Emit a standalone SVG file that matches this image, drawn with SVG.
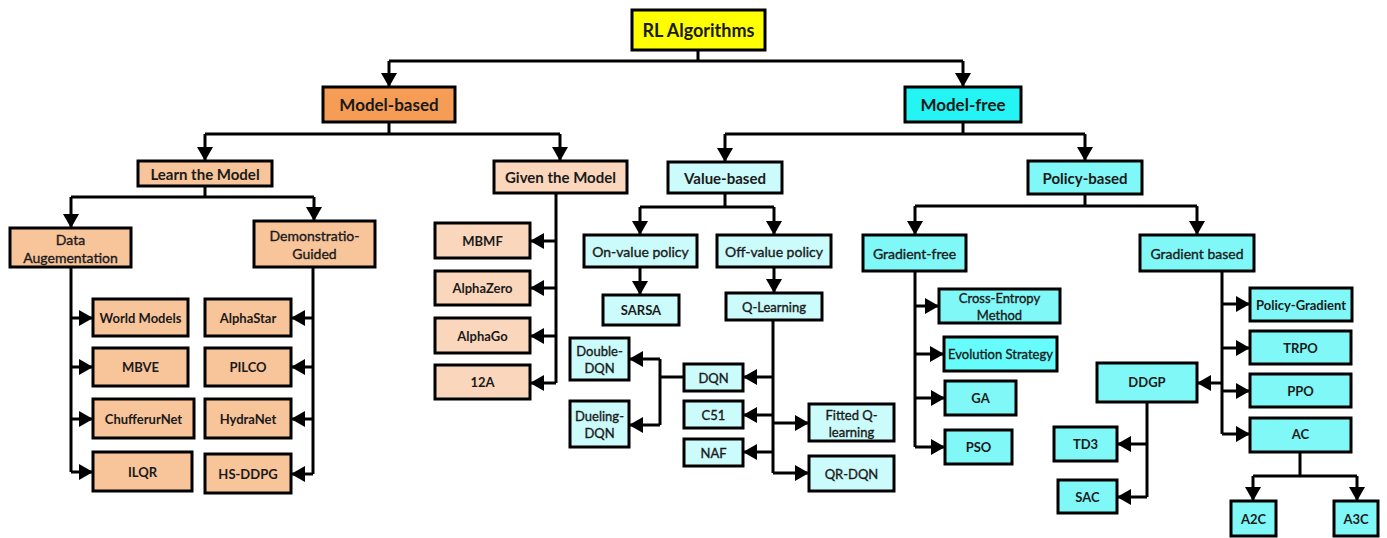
<svg xmlns="http://www.w3.org/2000/svg" width="1387" height="538" viewBox="0 0 1387 538">
  <style>
    rect { stroke: #000; stroke-width: 3; }
    text { font-family: Lato, "Liberation Sans", sans-serif; fill: #1a1a1a; text-anchor: middle; dominant-baseline: central; }
    .b { font-weight: 700; }
    .r { font-weight: 400; stroke: #1a1a1a; stroke-width: 0.35; }
    .root { fill: #FFFF00; }
    .mb { fill: #F59D56; }
    .mf { fill: #25F4F4; }
    .lo { fill: #F8C49A; }
    .go { fill: #FAD6BC; }
    .vb { fill: #CCFBFB; }
    .pb { fill: #80F8F8; }
    .es { fill: #66FCFC; }
    .links path { fill: none; stroke: #000; stroke-width: 3; }
    .links path.a { marker-end: url(#arrow); }
  </style>
  <defs>
    <marker id="arrow" viewBox="0 0 14 16" refX="13" refY="8" markerWidth="14" markerHeight="16" markerUnits="userSpaceOnUse" orient="auto">
      <path d="M0,0 L14,8 L0,16 z" fill="#000"/>
    </marker>
  </defs>

  <rect width="1387" height="538" fill="#fff" style="stroke:none"/>

  <!-- connectors -->
  <g class="links">
    <!-- root -->
    <path d="M698,50 V61 M389,61 H963"/>
    <path class="a" d="M389,61 V86"/>
    <path class="a" d="M963,61 V86"/>
    <!-- model-based -->
    <path d="M389,122 V134 M205,134 H560"/>
    <path class="a" d="M205,134 V160"/>
    <path class="a" d="M560,134 V160"/>
    <!-- model-free -->
    <path d="M963,123 V134 M725,134 H1085"/>
    <path class="a" d="M725,134 V161"/>
    <path class="a" d="M1085,134 V160"/>
    <!-- learn the model -->
    <path d="M205,186 V197 M71,197 H314"/>
    <path class="a" d="M71,197 V227"/>
    <path class="a" d="M314,197 V220"/>
    <!-- data augmentation -->
    <path d="M71,268 V472"/>
    <path class="a" d="M71,318 H92"/>
    <path class="a" d="M71,367 H92"/>
    <path class="a" d="M71,419 H92"/>
    <path class="a" d="M71,472 H92"/>
    <!-- demonstration guided -->
    <path d="M313,268 V474"/>
    <path class="a" d="M313,318 H292"/>
    <path class="a" d="M313,367 H292"/>
    <path class="a" d="M313,419 H292"/>
    <path class="a" d="M313,474 H292"/>
    <!-- given the model -->
    <path d="M556,194 V383"/>
    <path class="a" d="M556,241 H531"/>
    <path class="a" d="M556,288 H531"/>
    <path class="a" d="M556,336 H531"/>
    <path class="a" d="M556,383 H531"/>
    <!-- value-based -->
    <path d="M725,194 V207 M640,207 H774"/>
    <path class="a" d="M640,207 V234"/>
    <path class="a" d="M774,207 V234"/>
    <path class="a" d="M640,268 V294"/>
    <path class="a" d="M774,268 V292"/>
    <!-- q-learning -->
    <path d="M773,321 V473"/>
    <path class="a" d="M773,377 H744"/>
    <path class="a" d="M773,415 H744"/>
    <path class="a" d="M773,452 H744"/>
    <path class="a" d="M773,423 H808"/>
    <path class="a" d="M773,473 H808"/>
    <!-- dqn -->
    <path d="M683,377 H660 M660,359 V425"/>
    <path class="a" d="M660,359 H630"/>
    <path class="a" d="M660,425 H630"/>
    <!-- policy-based -->
    <path d="M1085,194 V206 M915,206 H1197"/>
    <path class="a" d="M915,206 V234"/>
    <path class="a" d="M1197,206 V234"/>
    <!-- gradient-free -->
    <path d="M915,272 V447"/>
    <path class="a" d="M915,306 H938"/>
    <path class="a" d="M915,354 H943"/>
    <path class="a" d="M915,398 H944"/>
    <path class="a" d="M915,447 H944"/>
    <!-- gradient based -->
    <path d="M1222,272 V434"/>
    <path class="a" d="M1222,304 H1249"/>
    <path class="a" d="M1222,348 H1249"/>
    <path class="a" d="M1222,391 H1249"/>
    <path class="a" d="M1222,434 H1249"/>
    <path class="a" d="M1222,383 H1198"/>
    <!-- ddgp -->
    <path d="M1147,403 V497"/>
    <path class="a" d="M1147,444 H1118"/>
    <path class="a" d="M1147,497 H1118"/>
    <!-- ac -->
    <path d="M1300,453 V476 M1253,476 H1357"/>
    <path class="a" d="M1253,476 V500"/>
    <path class="a" d="M1357,476 V500"/>
  </g>

  <!-- nodes -->
  <g id="rl-algorithms"><rect class="root" x="632" y="10" width="133" height="40"/><text class="b" x="698.5" y="30" font-size="18">RL Algorithms</text></g>

  <g id="model-based"><rect class="mb" x="323" y="87" width="132" height="35"/><text class="b" x="389" y="104.5" font-size="17">Model-based</text></g>
  <g id="model-free"><rect class="mf" x="905" y="87" width="116" height="35"/><text class="b" x="963" y="104.5" font-size="17">Model-free</text></g>

  <g id="learn-the-model"><rect class="lo" x="138" y="161" width="134" height="25"/><text class="b" x="205" y="173.5" font-size="15">Learn the Model</text></g>
  <g id="given-the-model"><rect class="go" x="494" y="161" width="133" height="32"/><text class="b" x="560.5" y="177" font-size="15">Given the Model</text></g>
  <g id="value-based"><rect class="vb" x="668" y="162" width="114" height="31"/><text class="b" x="725" y="177.5" font-size="15">Value-based</text></g>
  <g id="policy-based"><rect class="pb" x="1028" y="161" width="114" height="33"/><text class="b" x="1085" y="177.5" font-size="15">Policy-based</text></g>

  <g id="data-augmentation"><rect class="lo" x="10" y="228" width="121" height="39"/><text class="r" x="70.5" y="247.5" font-size="14"><tspan x="70.5" dy="-9">Data</tspan><tspan x="70.5" dy="18">Augementation</tspan></text></g>
  <g id="demonstratio-guided"><rect class="lo" x="254" y="221" width="121" height="46"/><text class="r" x="314.5" y="244" font-size="14"><tspan x="314.5" dy="-9">Demonstratio-</tspan><tspan x="314.5" dy="18">Guided</tspan></text></g>

  <g id="world-models"><rect class="lo" x="93" y="299" width="95" height="37"/><text class="b" x="140.5" y="317.5" font-size="13">World Models</text></g>
  <g id="mbve"><rect class="lo" x="93" y="348" width="95" height="38"/><text class="b" x="140.5" y="367" font-size="13">MBVE</text></g>
  <g id="chufferurnet"><rect class="lo" x="93" y="399" width="101" height="39"/><text class="b" x="143.5" y="418.5" font-size="13">ChufferurNet</text></g>
  <g id="ilqr"><rect class="lo" x="93" y="452" width="99" height="39"/><text class="b" x="142.5" y="471.5" font-size="13">ILQR</text></g>

  <g id="alphastar"><rect class="lo" x="205" y="299" width="86" height="37"/><text class="b" x="248" y="317.5" font-size="13">AlphaStar</text></g>
  <g id="pilco"><rect class="lo" x="205" y="348" width="86" height="38"/><text class="b" x="248" y="367" font-size="13">PILCO</text></g>
  <g id="hydranet"><rect class="lo" x="205" y="399" width="86" height="39"/><text class="b" x="248" y="418.5" font-size="13">HydraNet</text></g>
  <g id="hs-ddpg"><rect class="lo" x="205" y="454" width="86" height="39"/><text class="b" x="248" y="473.5" font-size="13">HS-DDPG</text></g>

  <g id="mbmf"><rect class="go" x="435" y="223" width="95" height="35"/><text class="b" x="482.5" y="240.5" font-size="13">MBMF</text></g>
  <g id="alphazero"><rect class="go" x="435" y="271" width="95" height="34"/><text class="b" x="482.5" y="288" font-size="13">AlphaZero</text></g>
  <g id="alphago"><rect class="go" x="435" y="318" width="95" height="35"/><text class="b" x="482.5" y="335.5" font-size="13">AlphaGo</text></g>
  <g id="i2a"><rect class="go" x="435" y="365" width="95" height="34"/><text class="b" x="482.5" y="382" font-size="13">12A</text></g>

  <g id="on-value-policy"><rect class="vb" x="584" y="235" width="113" height="32"/><text class="r" x="640.5" y="251" font-size="14">On-value policy</text></g>
  <g id="off-value-policy"><rect class="vb" x="717" y="235" width="114" height="32"/><text class="r" x="774" y="251" font-size="14">Off-value policy</text></g>
  <g id="sarsa"><rect class="vb" x="603" y="295" width="76" height="30"/><text class="b" x="641" y="310" font-size="13">SARSA</text></g>
  <g id="q-learning"><rect class="vb" x="726" y="293" width="96" height="27"/><text class="r" x="774" y="306.5" font-size="13">Q-Learning</text></g>

  <g id="double-dqn"><rect class="vb" x="570" y="338" width="59" height="42"/><text class="r" x="599.5" y="359" font-size="13"><tspan x="599.5" dy="-8">Double-</tspan><tspan x="599.5" dy="17">DQN</tspan></text></g>
  <g id="dueling-dqn"><rect class="vb" x="570" y="401" width="59" height="46"/><text class="r" x="599.5" y="424" font-size="13"><tspan x="599.5" dy="-8">Dueling-</tspan><tspan x="599.5" dy="17">DQN</tspan></text></g>
  <g id="dqn"><rect class="vb" x="684" y="364" width="59" height="27"/><text class="r" x="713.5" y="377.5" font-size="13">DQN</text></g>
  <g id="c51"><rect class="vb" x="684" y="401" width="59" height="27"/><text class="r" x="713.5" y="414.5" font-size="13">C51</text></g>
  <g id="naf"><rect class="vb" x="684" y="439" width="59" height="27"/><text class="r" x="713.5" y="452.5" font-size="13">NAF</text></g>
  <g id="fitted-q-learning"><rect class="vb" x="809" y="404" width="85" height="37"/><text class="r" x="851.5" y="422.5" font-size="13"><tspan x="851.5" dy="-8">Fitted Q-</tspan><tspan x="851.5" dy="17">learning</tspan></text></g>
  <g id="qr-dqn"><rect class="vb" x="809" y="456" width="85" height="35"/><text class="r" x="851.5" y="473.5" font-size="13">QR-DQN</text></g>

  <g id="gradient-free"><rect class="pb" x="863" y="235" width="103" height="36"/><text class="r" x="914.5" y="253" font-size="14">Gradient-free</text></g>
  <g id="gradient-based"><rect class="pb" x="1140" y="235" width="114" height="36"/><text class="r" x="1197" y="253" font-size="14">Gradient based</text></g>

  <g id="cross-entropy-method"><rect class="pb" x="939" y="289" width="121" height="34"/><text class="r" x="999.5" y="306" font-size="13"><tspan x="999.5" dy="-8">Cross-Entropy</tspan><tspan x="999.5" dy="17">Method</tspan></text></g>
  <g id="evolution-strategy"><rect class="es" x="944" y="337" width="113" height="34"/><text class="r" x="1000.5" y="354" font-size="13">Evolution Strategy</text></g>
  <g id="ga"><rect class="pb" x="945" y="381" width="71" height="34"/><text class="b" x="980.5" y="398" font-size="13">GA</text></g>
  <g id="pso"><rect class="pb" x="945" y="430" width="67" height="34"/><text class="b" x="978.5" y="447" font-size="13">PSO</text></g>

  <g id="policy-gradient"><rect class="pb" x="1250" y="288" width="102" height="33"/><text class="b" x="1301" y="304.5" font-size="13">Policy-Gradient</text></g>
  <g id="trpo"><rect class="pb" x="1250" y="331" width="101" height="33"/><text class="b" x="1300.5" y="347.5" font-size="13">TRPO</text></g>
  <g id="ppo"><rect class="pb" x="1250" y="374" width="101" height="33"/><text class="b" x="1300.5" y="390.5" font-size="13">PPO</text></g>
  <g id="ac"><rect class="pb" x="1250" y="418" width="101" height="34"/><text class="b" x="1300.5" y="434" font-size="13">AC</text></g>

  <g id="ddgp"><rect class="pb" x="1097" y="363" width="100" height="39"/><text class="b" x="1147" y="382" font-size="13">DDGP</text></g>
  <g id="td3"><rect class="pb" x="1054" y="427" width="63" height="34"/><text class="b" x="1085.5" y="444" font-size="13">TD3</text></g>
  <g id="sac"><rect class="pb" x="1058" y="480" width="59" height="33"/><text class="b" x="1087.5" y="496.5" font-size="13">SAC</text></g>
  <g id="a2c"><rect class="pb" x="1231" y="501" width="45" height="35"/><text class="b" x="1253.5" y="518.5" font-size="13">A2C</text></g>
  <g id="a3c"><rect class="pb" x="1334" y="501" width="44" height="35"/><text class="b" x="1356" y="518.5" font-size="13">A3C</text></g>
</svg>
